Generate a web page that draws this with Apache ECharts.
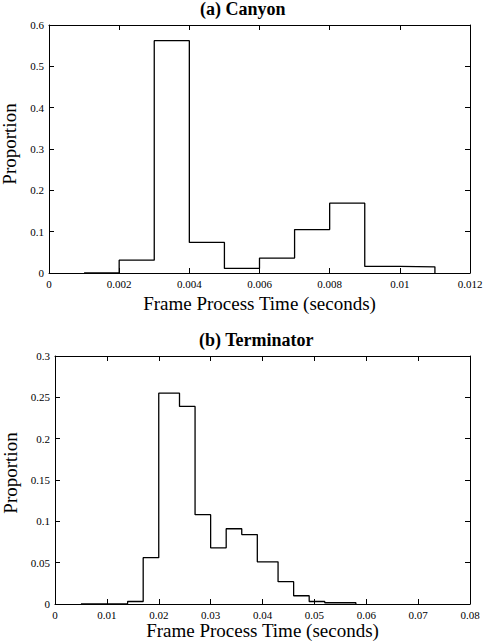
<!DOCTYPE html>
<html>
<head>
<meta charset="utf-8">
<script src="https://cdn.jsdelivr.net/npm/echarts@6/dist/echarts.min.js"></script>
<style>
html, body { margin: 0; padding: 0; background: #fff; }
#chart { width: 483px; height: 642px; }
</style>
</head>
<body>
<div id="chart"></div>
<script>
// histogram bin edges and proportions
var canyonEdges = [0.001, 0.002, 0.003, 0.004, 0.005, 0.006, 0.007, 0.008, 0.009, 0.010, 0.011];
var canyonValues = [0.001, 0.031, 0.562, 0.074, 0.011, 0.036, 0.105, 0.169, 0.016, 0.015];

var termEdges = [0.005, 0.014, 0.017, 0.020, 0.024, 0.027, 0.030, 0.033, 0.036, 0.039, 0.043, 0.046, 0.049, 0.052, 0.058];
var termValues = [0.0005, 0.003, 0.056, 0.255, 0.239, 0.108, 0.068, 0.091, 0.084, 0.051, 0.027, 0.010, 0.003, 0.0015];

var canyonXTicks = { min: 0, max: 0.012, interval: 0.002 };
var canyonYTicks = { min: 0, max: 0.6, interval: 0.1 };
var termXTicks = { min: 0, max: 0.08, interval: 0.01 };
var termYTicks = { min: 0, max: 0.3, interval: 0.05 };

var xName = 'Frame Process Time (seconds)';
var yName = 'Proportion';
var font = '"Liberation Serif", "Times New Roman", serif';

// turn edges + bin heights into an outline for a step line
function stepPoints(edges, values) {
    var pts = [[edges[0], 0]];
    for (var i = 0; i < values.length; i++) {
        pts.push([edges[i], values[i]]);
    }
    pts.push([edges[edges.length - 1], 0]);
    return pts;
}

function mainX(idx, t, gap) {
    return {
        type: 'value', gridIndex: idx, min: t.min, max: t.max, interval: t.interval,
        name: xName, nameLocation: 'middle', nameGap: gap,
        nameTextStyle: { fontFamily: font, fontSize: 19, color: '#000' },
        axisLine: { show: true, lineStyle: { color: '#000', width: 1 } },
        axisTick: { show: true, inside: true, length: 5, lineStyle: { color: '#000' } },
        axisLabel: { fontFamily: font, fontSize: 11, color: '#000', margin: 5 },
        splitLine: { show: false }
    };
}
function mainY(idx, t, gap, shift) {
    return {
        type: 'value', gridIndex: idx, min: t.min, max: t.max, interval: t.interval,
        name: yName, nameLocation: 'middle', nameGap: gap,
        nameTextStyle: { fontFamily: font, fontSize: 19, color: '#000', padding: [0, 0, 0, shift] },
        axisLine: { show: true, lineStyle: { color: '#000', width: 1 } },
        axisTick: { show: true, inside: true, length: 5, lineStyle: { color: '#000' } },
        axisLabel: { fontFamily: font, fontSize: 11, color: '#000', margin: 5 },
        splitLine: { show: false }
    };
}
function frameAxis(idx, t, pos) {
    return {
        type: 'value', gridIndex: idx, position: pos, min: t.min, max: t.max, interval: t.interval,
        axisLine: { show: true, onZero: false, lineStyle: { color: '#000', width: 1 } },
        axisTick: { show: true, inside: true, length: 5, lineStyle: { color: '#000' } },
        axisLabel: { show: false },
        splitLine: { show: false }
    };
}

var chart = echarts.init(document.getElementById('chart'), null, { renderer: 'svg' });

var option = {
    backgroundColor: '#fff',
    animation: false,
    textStyle: { fontFamily: font },
    grid: [
        { left: 49, top: 25, width: 421, height: 248, outerBoundsMode: 'none', containLabel: false },
        { left: 55, top: 356, width: 415, height: 248, outerBoundsMode: 'none', containLabel: false }
    ],
    xAxis: [
        mainX(0, canyonXTicks, 21),
        mainX(1, termXTicks, 13),
        frameAxis(0, canyonXTicks, 'top'),
        frameAxis(1, termXTicks, 'top')
    ],
    yAxis: [
        mainY(0, canyonYTicks, 24, 10),
        mainY(1, termYTicks, 28, 14),
        frameAxis(0, canyonYTicks, 'right'),
        frameAxis(1, termYTicks, 'right')
    ],
    graphic: [
        {
            type: 'text', left: 200, top: 0,
            style: { text: '(a) Canyon', fontFamily: font, fontSize: 18, fontWeight: 'bold', fill: '#000' }
        },
        {
            type: 'text', left: 199, top: 331,
            style: { text: '(b) Terminator', fontFamily: font, fontSize: 18, fontWeight: 'bold', fill: '#000' }
        }
    ],
    series: [
        {
            name: 'Canyon', type: 'line', xAxisIndex: 0, yAxisIndex: 0,
            step: 'end', symbol: 'none',
            lineStyle: { color: '#000', width: 1.3 },
            data: stepPoints(canyonEdges, canyonValues)
        },
        {
            name: 'Terminator', type: 'line', xAxisIndex: 1, yAxisIndex: 1,
            step: 'end', symbol: 'none',
            lineStyle: { color: '#000', width: 1.3 },
            data: stepPoints(termEdges, termValues)
        }
    ]
};

chart.setOption(option);
</script>
</body>
</html>
